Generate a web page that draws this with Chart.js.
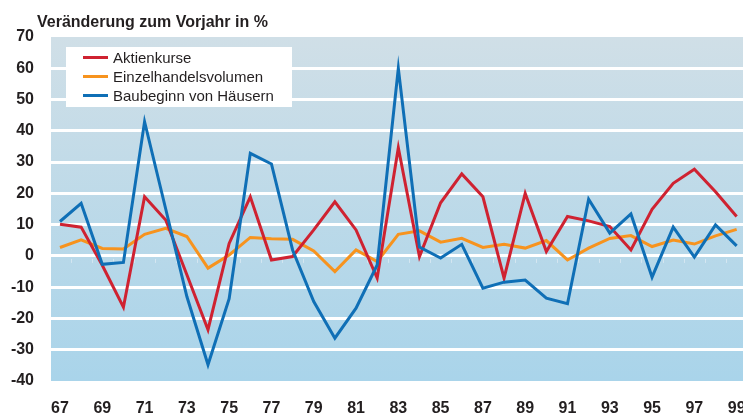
<!DOCTYPE html>
<html>
<head>
<meta charset="utf-8">
<script src="https://cdn.jsdelivr.net/npm/chart.js@4"></script>
<style>
  html, body { margin: 0; padding: 0; background: #ffffff; }
  #wrap { width: 743px; height: 414px; position: relative; }
</style>
</head>
<body>
<div id="wrap"><canvas id="c" width="743" height="414"></canvas></div>
<script>
const titleText = 'Veränderung zum Vorjahr in %';
const years = [67,68,69,70,71,72,73,74,75,76,77,78,79,80,81,82,83,84,85,86,87,88,89,90,91,92,93,94,95,96,97,98,99];
const xTickLabels = ['67','69','71','73','75','77','79','81','83','85','87','89','91','93','95','97','99'];
const seriesNames = ['Aktienkurse', 'Einzelhandelsvolumen', 'Baubeginn von Häusern'];
const aktienkurse = [10.1, 9.2, -3, -16.4, 18.9, 11.5, -6, -23.6, 4.0, 18.9, -1.3, -0.2, 8.3, 17.3, 8.3, -7.1, 34.6, -0.2, 17.0, 26.2, 18.9, -7.1, 20.0, 1.4, 12.6, 11.2, 9.4, 1.9, 14.9, 23.2, 27.7, 20.5, 12.6];
const einzelhandel = [2.7, 5.1, 2.4, 2.2, 6.9, 8.8, 6.2, -3.9, 0.3, 5.9, 5.5, 5.3, 1.6, -5.0, 1.9, -1.8, 6.9, 8.0, 4.4, 5.6, 2.7, 3.7, 2.5, 4.9, -1.3, 2.5, 5.6, 6.5, 3.0, 5.1, 3.8, 6.4, 8.5];
const baubeginn = [11.0, 16.8, -2.7, -2.1, 42.9, 15, -13, -34.8, -13.7, 32.8, 29.4, 1.9, -14.6, -26.3, -16.7, -2.9, 60, 2.8, -0.7, 3.7, -10.3, -8.4, -7.7, -13.5, -15.3, 18.1, 7.3, 13.4, -6.8, 9.2, -0.4, 9.9, 3.2];
const colors = ['#cf2231', '#f7931e', '#0f6fb6'];
const drawOrder = [1, 2, 0]; // blue on top, red middle, orange bottom

const FONT = '"Liberation Sans", Arial, Helvetica, sans-serif';
const TEXT = '#231f20';

const seriesValues = [aktienkurse, einzelhandel, baubeginn];
const datasets = seriesValues.map((vals, k) => ({
  label: seriesNames[k],
  data: vals.map((v, i) => ({ x: years[i], y: v })),
  borderColor: colors[k],
  backgroundColor: colors[k],
  borderWidth: 3,
  pointRadius: 0,
  tension: 0,
  borderJoinStyle: 'miter',
  order: drawOrder[k]
}));

const bgPlugin = {
  id: 'bg',
  beforeDraw(chart) {
    const { ctx, chartArea: a } = chart;
    const g = ctx.createLinearGradient(0, a.top, 0, a.bottom);
    g.addColorStop(0, '#d0dfe7');
    g.addColorStop(1, '#a9d4ea');
    ctx.save();
    ctx.fillStyle = g;
    ctx.fillRect(a.left, a.top, a.right - a.left, a.bottom - a.top);
    ctx.restore();
  },
  beforeDatasetsDraw(chart) {
    const { ctx, chartArea: a, scales } = chart;
    const y0 = scales.y.getPixelForValue(0) + 5;
    ctx.save();
    ctx.strokeStyle = 'rgba(215,232,242,0.9)';
    ctx.lineWidth = 1;
    ctx.beginPath();
    for (let i = 0; i <= years.length; i++) {
      const x = Math.round(scales.x.getPixelForValue(years[0] - 0.5 + i)) + 0.5;
      if (x < a.left || x > a.right) continue;
      ctx.moveTo(x, y0 - 2);
      ctx.lineTo(x, y0 + 2);
    }
    ctx.stroke();
    ctx.restore();
  }
};

const overlayPlugin = {
  id: 'overlay',
  afterDraw(chart) {
    const { ctx } = chart;
    ctx.save();
    ctx.fillStyle = TEXT;
    ctx.font = 'bold 16px ' + FONT;
    ctx.textBaseline = 'alphabetic';
    ctx.textAlign = 'left';
    ctx.fillText(titleText, 37, 27);
    ctx.fillStyle = '#ffffff';
    ctx.fillRect(66, 47, 226, 60);
    const rowsY = [57.5, 76.5, 95.5];
    ctx.font = '15px ' + FONT;
    ctx.textBaseline = 'middle';
    chart.data.datasets.forEach((ds, k) => {
      ctx.strokeStyle = ds.borderColor;
      ctx.lineWidth = 3;
      ctx.beginPath();
      ctx.moveTo(83, rowsY[k]);
      ctx.lineTo(108, rowsY[k]);
      ctx.stroke();
      ctx.fillStyle = TEXT;
      ctx.fillText(ds.label, 113, rowsY[k] + 1);
    });
    ctx.restore();
  }
};

new Chart(document.getElementById('c'), {
  type: 'line',
  data: { datasets },
  plugins: [bgPlugin, overlayPlugin],
  options: {
    responsive: false,
    animation: false,
    devicePixelRatio: 1,
    layout: { padding: { top: 37, right: 0, left: 0, bottom: 0 } },
    plugins: { legend: { display: false }, tooltip: { enabled: false }, title: { display: false } },
    scales: {
      x: {
        type: 'linear',
        min: 66.575,
        max: 99.3,
        afterBuildTicks(axis) {
          axis.ticks = xTickLabels.map(l => ({ value: Number(l) }));
        },
        afterFit(axis) { axis.height = 33; axis.paddingLeft = 0; axis.paddingRight = 0; },
        grid: { display: false, drawTicks: false },
        border: { display: false },
        ticks: {
          autoSkip: false,
          maxRotation: 0,
          padding: 18,
          color: TEXT,
          font: { family: FONT, size: 16, weight: 'bold' },
          callback: (v) => xTickLabels.find(l => Number(l) === v) || ''
        }
      },
      y: {
        min: -40,
        max: 70,
        afterFit(axis) { axis.width = 51; axis.paddingTop = 0; axis.paddingBottom = 0; },
        grid: {
          drawTicks: false,
          lineWidth: 3,
          color: (c) => (c.tick && (c.tick.value === 70 || c.tick.value === -40)) ? 'rgba(0,0,0,0)' : '#ffffff'
        },
        border: { display: false },
        ticks: {
          stepSize: 10,
          padding: 17,
          color: TEXT,
          font: { family: FONT, size: 16, weight: 'bold' }
        }
      }
    }
  }
});
</script>
</body>
</html>
